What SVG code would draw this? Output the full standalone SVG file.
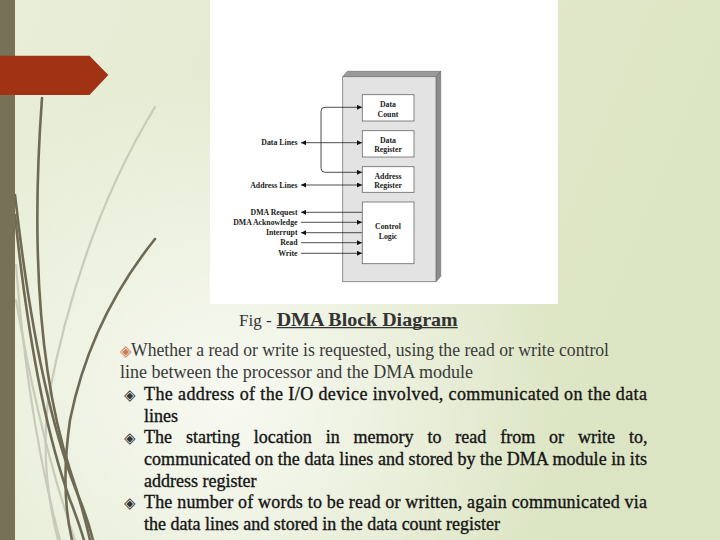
<svg xmlns="http://www.w3.org/2000/svg" width="720" height="540" viewBox="0 0 720 540">
  <defs>
    <linearGradient id="bg" x1="0" y1="0" x2="1" y2="0.3">
      <stop offset="0" stop-color="#e9eed9"/>
      <stop offset="1" stop-color="#dce5c3"/>
    </linearGradient>
    <radialGradient id="glow" cx="230" cy="400" r="330" gradientUnits="userSpaceOnUse">
      <stop offset="0" stop-color="#ffffff" stop-opacity="0.75"/>
      <stop offset="0.6" stop-color="#ffffff" stop-opacity="0.3"/>
      <stop offset="1" stop-color="#ffffff" stop-opacity="0"/>
    </radialGradient>
    <marker id="ah" viewBox="0 0 6 6" refX="6" refY="3" markerWidth="5" markerHeight="5" markerUnits="userSpaceOnUse" orient="auto-start-reverse">
      <path d="M0,0 L6,3 L0,6 z" fill="#111"/>
    </marker>
    <style>
      .lbl { font-family: "Liberation Serif", serif; font-weight: bold; font-size: 7.8px; fill: #222; }
      .in { font-family: "Liberation Serif", serif; font-weight: bold; font-size: 7.8px; fill: #222; text-anchor: middle; }
      .reg { fill: #ffffff; stroke: #666; stroke-width: 0.8; }
      .wire { stroke: #222; stroke-width: 0.8; fill: none; }
      .t1 { font-family: "Liberation Serif", serif; font-size: 18px; fill: #3a3a3a; }
      .t2 { font-family: "Liberation Serif", serif; font-size: 18px; fill: #151515; stroke: #151515; stroke-width: 0.35px; }
      .bul { font-family: "DejaVu Sans", sans-serif; font-size: 15px; fill: #333; }
      .grass { fill: none; stroke: #6f6a54; stroke-width: 2.6; stroke-linecap: round; }
      .grassl { fill: none; stroke: #c9cbb8; stroke-width: 2.2; stroke-linecap: round; }
    </style>
  </defs>

  <!-- background -->
  <rect x="0" y="0" width="720" height="540" fill="url(#bg)"/>
  <rect x="0" y="0" width="720" height="540" fill="url(#glow)"/>

  <!-- decorative grass -->
  <g id="grass">
    <path class="grassl" d="M155,107 Q80,230 48,400 Q40,470 58,540"/>
    <path class="grassl" d="M16,265 Q28,420 60,540"/>
    <path class="grassl" d="M16,300 Q40,440 75,540"/>
    <path class="grass" d="M42,98 Q25,330 70,470 Q82,505 90,540"/>
    <path class="grass" d="M155,239 Q90,320 70,420 Q60,490 72,540"/>
    <path class="grass" d="M15,195 Q38,400 80,500 Q88,520 93,540"/>
    <path class="grass" d="M15,215 Q34,400 70,500 Q78,520 84,540"/>
  </g>

  <!-- left strip and banner -->
  <rect x="0" y="0" width="15" height="540" fill="#767157"/>
  <path d="M0,55.7 H89.5 L108.3,75 L89.5,95 H0 Z" fill="#a23214"/>

  <!-- figure panel -->
  <rect x="210" y="0" width="348" height="304" fill="#ffffff"/>

  <!-- DMA module -->
  <g id="dma-module">
    <polygon points="342.7,76.7 347.4,71.3 440.7,71.3 436,76.7" fill="#9a9a9a" stroke="#666" stroke-width="0.6"/>
    <polygon points="436,76.7 440.7,71.3 440.7,276.5 436,281.7" fill="#8c8c8c" stroke="#666" stroke-width="0.6"/>
    <rect x="342.7" y="76.7" width="93.3" height="205" fill="#e3e3e3" stroke="#777" stroke-width="0.8"/>
  </g>

  <g id="data-count">
    <rect class="reg" x="362.3" y="94.7" width="51.7" height="26.3"/>
    <text class="in" x="388" y="107">Data</text>
    <text class="in" x="388" y="116.7">Count</text>
  </g>
  <g id="data-register">
    <rect class="reg" x="362.3" y="130.7" width="51.7" height="26.3"/>
    <text class="in" x="388" y="142.7">Data</text>
    <text class="in" x="388" y="152">Register</text>
  </g>
  <g id="address-register">
    <rect class="reg" x="362.3" y="166.7" width="51.7" height="25.6"/>
    <text class="in" x="388" y="178.7">Address</text>
    <text class="in" x="388" y="188.4">Register</text>
  </g>
  <g id="control-logic">
    <rect class="reg" x="362.3" y="202" width="51.7" height="61.7"/>
    <text class="in" x="388" y="229">Control</text>
    <text class="in" x="388" y="239.4">Logic</text>
  </g>

  <!-- signal labels -->
  <g id="labels">
    <text class="lbl" x="297.5" y="145.4" text-anchor="end">Data Lines</text>
    <text class="lbl" x="297.5" y="187.7" text-anchor="end">Address Lines</text>
    <text class="lbl" x="297.5" y="215" text-anchor="end">DMA Request</text>
    <text class="lbl" x="297.5" y="225" text-anchor="end">DMA Acknowledge</text>
    <text class="lbl" x="297.5" y="235.4" text-anchor="end">Interrupt</text>
    <text class="lbl" x="297.5" y="245.4" text-anchor="end">Read</text>
    <text class="lbl" x="297.5" y="256" text-anchor="end">Write</text>
  </g>

  <!-- connectors -->
  <g id="connectors">
    <path class="wire" d="M362,107.3 H325 Q321,107.3 321,111.3 V168.3 Q321,172.3 325,172.3 H362" marker-start="url(#ah)" marker-end="url(#ah)"/>
    <line class="wire" x1="301" y1="142.7" x2="362" y2="142.7" marker-start="url(#ah)" marker-end="url(#ah)"/>
    <line class="wire" x1="301" y1="185" x2="362" y2="185" marker-start="url(#ah)" marker-end="url(#ah)"/>
    <line class="wire" x1="301" y1="212.3" x2="362" y2="212.3" marker-start="url(#ah)"/>
    <line class="wire" x1="301" y1="222.3" x2="362" y2="222.3" marker-end="url(#ah)"/>
    <line class="wire" x1="301" y1="232.7" x2="362" y2="232.7" marker-start="url(#ah)"/>
    <line class="wire" x1="301" y1="242.7" x2="362" y2="242.7" marker-end="url(#ah)"/>
    <line class="wire" x1="301" y1="253.3" x2="362" y2="253.3" marker-end="url(#ah)"/>
  </g>

  <!-- caption -->
  <g id="caption">
    <text x="239" y="325.5" font-family="'Liberation Serif', serif" font-size="17" fill="#333">Fig - </text>
    <text x="276.7" y="325.5" font-family="'Liberation Serif', serif" font-size="19" font-weight="bold" fill="#333" textLength="181" lengthAdjust="spacingAndGlyphs">DMA Block Diagram</text>
    <line x1="276.7" y1="327.6" x2="457.7" y2="327.6" stroke="#333" stroke-width="1.3"/>
  </g>

  <!-- body text -->
  <g id="body">
    <text class="bul" x="120" y="356" style="fill:#d07a55">◈</text>
    <text class="t1" x="131" y="356" textLength="478" lengthAdjust="spacingAndGlyphs">Whether a read or write is requested, using the read or write control</text>
    <text class="t1" x="120" y="378" textLength="353" lengthAdjust="spacingAndGlyphs">line between the processor and the DMA module</text>

    <text class="bul" x="124" y="400">◈</text>
    <text class="t2" x="144" y="400" textLength="503" lengthAdjust="spacing">The address of the I/O device involved, communicated on the data</text>
    <text class="t2" x="144" y="421.5">lines</text>

    <text class="bul" x="124" y="443">◈</text>
    <text class="t2" x="144" y="443" word-spacing="9.4">The starting location in memory to read from or write to,</text>
    <text class="t2" x="144" y="465" textLength="503" lengthAdjust="spacing">communicated on the data lines and stored by the DMA module in its</text>
    <text class="t2" x="144" y="486.5">address register</text>

    <text class="bul" x="124" y="508">◈</text>
    <text class="t2" x="144" y="508" textLength="503" lengthAdjust="spacing">The number of words to be read or written, again communicated via</text>
    <text class="t2" x="144" y="530" textLength="356" lengthAdjust="spacingAndGlyphs">the data lines and stored in the data count register</text>
  </g>
</svg>
